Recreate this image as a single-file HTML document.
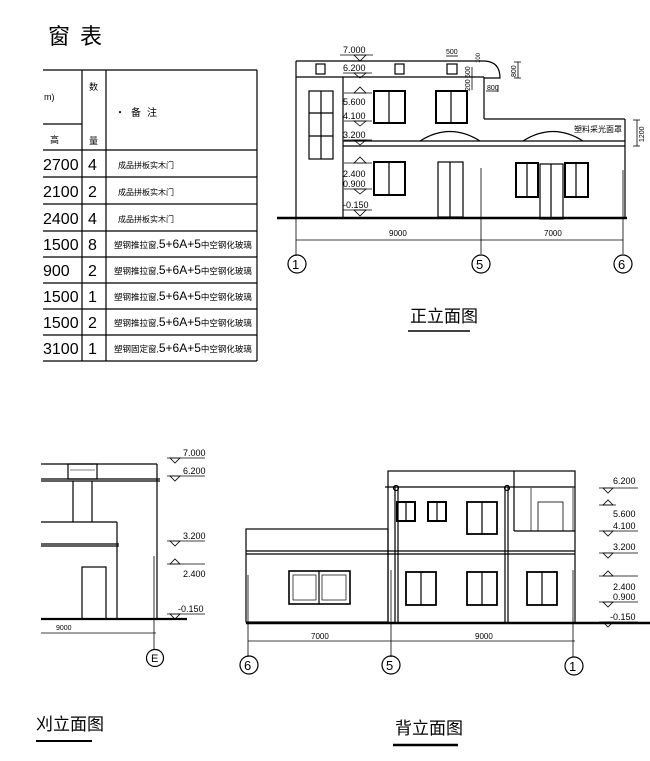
<!DOCTYPE html>
<html><head><meta charset="utf-8"><style>
body{margin:0;background:#fff}
svg{display:block}
text{font-family:"Liberation Sans","Noto Sans CJK SC",sans-serif;fill:#000}
.cj{font-family:"Noto Sans CJK SC","WenQuanYi Zen Hei",sans-serif}
</style></head><body>
<svg width="650" height="761" viewBox="0 0 650 761" xmlns="http://www.w3.org/2000/svg" stroke="#000" fill="none" stroke-width="1">
<!-- Window table -->
<text x="48" y="44" font-size="22" stroke="none" class="cj" letter-spacing="10">窗表</text>
<g stroke-width="1.2">
<line x1="43" y1="70" x2="257" y2="70"/>
<line x1="257" y1="70" x2="257" y2="361"/>
<line x1="82" y1="70" x2="82" y2="361"/>
<line x1="106" y1="70" x2="106" y2="361"/>
<line x1="43" y1="124" x2="82" y2="124"/>
<line x1="43" y1="150" x2="257" y2="150"/>
<line x1="43" y1="177" x2="257" y2="177"/>
<line x1="43" y1="204" x2="257" y2="204"/>
<line x1="43" y1="231" x2="257" y2="231"/>
<line x1="43" y1="257" x2="257" y2="257"/>
<line x1="43" y1="283" x2="257" y2="283"/>
<line x1="43" y1="309" x2="257" y2="309"/>
<line x1="43" y1="335" x2="257" y2="335"/>
<line x1="43" y1="361" x2="257" y2="361"/>
</g>
<g stroke="none">
<text x="44" y="100" font-size="9">m)</text>
<text x="89" y="90" font-size="9" class="cj">数</text>
<text x="89" y="144" font-size="9" class="cj">量</text>
<text x="50" y="143" font-size="9" class="cj">高</text>
<text x="115" y="116" font-size="10" class="cj" letter-spacing="6">·备注</text>
<g font-size="16">
<text x="43" y="170">2700</text><text x="88" y="170">4</text>
<text x="43" y="197">2100</text><text x="88" y="197">2</text>
<text x="43" y="224">2400</text><text x="88" y="224">4</text>
<text x="43" y="250">1500</text><text x="88" y="250">8</text>
<text x="43" y="276">900</text><text x="88" y="276">2</text>
<text x="43" y="302">1500</text><text x="88" y="302">1</text>
<text x="43" y="328">1500</text><text x="88" y="328">2</text>
<text x="43" y="354">3100</text><text x="88" y="354">1</text>
</g>
<g font-size="8" class="cj">
<text x="118" y="168">成品拼板实木门</text>
<text x="118" y="195">成品拼板实木门</text>
<text x="118" y="222">成品拼板实木门</text>
</g>
<g font-size="8.5" class="cj">
<text x="114" y="248">塑钢推拉窗,<tspan font-size="12">5+6A+5</tspan>中空钢化玻璃</text>
<text x="114" y="274">塑钢推拉窗,<tspan font-size="12">5+6A+5</tspan>中空钢化玻璃</text>
<text x="114" y="300">塑钢推拉窗,<tspan font-size="12">5+6A+5</tspan>中空钢化玻璃</text>
<text x="114" y="326">塑钢推拉窗,<tspan font-size="12">5+6A+5</tspan>中空钢化玻璃</text>
<text x="114" y="352">塑钢固定窗,<tspan font-size="12">5+6A+5</tspan>中空钢化玻璃</text>
</g>
</g>

<!-- Front elevation -->
<g stroke-width="1.2">
<line x1="296" y1="61" x2="485" y2="61"/>
<path d="M485 61 Q500 62 500 78 L484 78"/>
<line x1="296" y1="77" x2="484" y2="77"/>
<line x1="296" y1="61" x2="296" y2="217"/>
<line x1="343" y1="77" x2="343" y2="217"/>
<line x1="484" y1="77" x2="484" y2="119"/>
<line x1="484" y1="119" x2="625" y2="119"/>
<line x1="625" y1="119" x2="625" y2="219"/>
<line x1="343" y1="141" x2="625" y2="141"/>
<line x1="343" y1="146" x2="625" y2="146"/>
<path d="M420 141 Q450 122 480 141"/>
<path d="M523 141 Q553 122 583 141"/>
<rect x="309" y="91" width="24" height="68"/>
<line x1="321" y1="91" x2="321" y2="159"/>
<line x1="309" y1="113" x2="333" y2="113"/>
<line x1="309" y1="136" x2="333" y2="136"/>
<rect x="374" y="91" width="31" height="32" stroke-width="2"/><line x1="389" y1="91" x2="389" y2="123"/>
<rect x="436" y="91" width="31" height="32" stroke-width="2"/><line x1="451" y1="91" x2="451" y2="123"/>
<rect x="374" y="162" width="31" height="33" stroke-width="2"/><line x1="389" y1="162" x2="389" y2="195"/>
<rect x="438" y="162" width="25" height="55"/><line x1="450" y1="162" x2="450" y2="217"/>
<rect x="516" y="163" width="22" height="34" stroke-width="2"/><line x1="527" y1="163" x2="527" y2="197"/>
<rect x="565" y="163" width="23" height="34" stroke-width="2"/><line x1="576" y1="163" x2="576" y2="197"/>
<rect x="540" y="164" width="23" height="55"/><line x1="551" y1="164" x2="551" y2="219"/>
<rect x="316" y="64" width="9" height="10"/><rect x="395" y="64" width="9" height="10"/><rect x="447" y="64" width="10" height="10"/>
<line x1="277" y1="218" x2="627" y2="218" stroke-width="2.5"/>
<line x1="296" y1="240" x2="623" y2="240" stroke-width="0.8"/>
<line x1="296" y1="165" x2="296" y2="256" stroke-width="0.8"/>
<line x1="481" y1="168" x2="481" y2="254" stroke-width="0.8"/>
<line x1="623" y1="170" x2="623" y2="254" stroke-width="0.8"/>
<circle cx="297" cy="264" r="9"/><circle cx="481" cy="264" r="9"/><circle cx="623" cy="264" r="9"/>
<line x1="408" y1="331" x2="470" y2="331" stroke-width="1.5"/>
</g>
<g stroke-width="0.8">
<line x1="637" y1="120" x2="637" y2="146"/><line x1="633" y1="120" x2="640" y2="120"/><line x1="633" y1="146" x2="640" y2="146"/>
<line x1="518" y1="62" x2="518" y2="78"/><line x1="514" y1="62" x2="521" y2="62"/><line x1="514" y1="78" x2="521" y2="78"/>
<line x1="446" y1="56" x2="458" y2="56"/>
<line x1="472" y1="67" x2="472" y2="90"/>
<line x1="486" y1="91" x2="498" y2="91"/><line x1="498" y1="85" x2="498" y2="92"/>
</g>
<g stroke-width="0.8">
<line x1="340" y1="55" x2="373" y2="55"/><path d="M354 55 L366 55 L360 61Z"/>
<line x1="343" y1="73" x2="372" y2="73"/><path d="M354 73 L366 73 L360 78Z"/>
<line x1="344" y1="93" x2="372" y2="93"/><path d="M354 93 L366 93 L360 87Z"/>
<line x1="344" y1="121" x2="372" y2="121"/><path d="M354 121 L366 121 L360 126Z"/>
<line x1="344" y1="140" x2="372" y2="140"/><path d="M354 140 L366 140 L360 145Z"/>
<line x1="344" y1="163" x2="372" y2="163"/><path d="M354 163 L366 163 L360 157Z"/>
<line x1="344" y1="189" x2="372" y2="189"/><path d="M354 189 L366 189 L360 194Z"/>
<line x1="343" y1="210" x2="372" y2="210"/><path d="M354 210 L366 210 L360 216Z"/>
</g>
<g stroke="none" font-size="9">
<text x="343" y="53">7.000</text><text x="343" y="71">6.200</text>
<text x="343" y="105">5.600</text><text x="343" y="119">4.100</text><text x="343" y="138">3.200</text>
<text x="343" y="177">2.400</text><text x="343" y="187">0.900</text><text x="343" y="208">-0.150</text>
<text x="446" y="54" font-size="7">500</text>
<text x="487" y="90" font-size="7">800</text>
<text x="470" y="78" font-size="7" transform="rotate(-90 470 78)">500</text>
<text x="470" y="91" font-size="7" transform="rotate(-90 470 91)">200</text>
<text x="480" y="63" font-size="6" transform="rotate(-90 480 63)">100</text>
<text x="516" y="77" font-size="7" transform="rotate(-90 516 77)">800</text>
<text x="644" y="142" font-size="7" transform="rotate(-90 644 142)">1200</text>
<text x="389" y="236" font-size="8">9000</text><text x="544" y="236" font-size="8">7000</text>
<text x="292" y="269" font-size="13">1</text><text x="476" y="269" font-size="13">5</text><text x="618" y="269" font-size="13">6</text>
<text x="574" y="132" font-size="8" class="cj">塑料采光面罩</text>
<text x="410" y="322" font-size="17" class="cj">正立面图</text>
</g>

<!-- Side elevation -->
<g stroke-width="1.2">
<line x1="41" y1="464" x2="157" y2="464"/>
<line x1="41" y1="479" x2="160" y2="479"/>
<line x1="41" y1="481" x2="160" y2="481"/>
<rect x="68" y="464" width="29" height="15"/>
<line x1="70" y1="470" x2="95" y2="470" stroke-width="0.6"/>
<line x1="73" y1="481" x2="73" y2="522"/><line x1="92" y1="481" x2="92" y2="522"/>
<line x1="41" y1="522" x2="117" y2="522"/>
<line x1="117" y1="522" x2="117" y2="619"/>
<line x1="41" y1="544" x2="119" y2="544"/><line x1="41" y1="546" x2="119" y2="546"/>
<rect x="82" y="567" width="24" height="52"/>
<line x1="157" y1="464" x2="157" y2="619"/>
<line x1="41" y1="619" x2="187" y2="619" stroke-width="2.2"/>
<line x1="41" y1="633" x2="156" y2="633" stroke-width="0.8"/>
<line x1="154" y1="556" x2="154" y2="650" stroke-width="0.8"/>
<circle cx="155" cy="658" r="8.5"/>
<line x1="36" y1="741" x2="92" y2="741" stroke-width="2"/>
</g>
<g stroke-width="0.8">
<line x1="167" y1="458" x2="205" y2="458"/><path d="M170 458 L180 458 L175 463Z"/>
<line x1="167" y1="476" x2="205" y2="476"/><path d="M170 476 L180 476 L175 481Z"/>
<line x1="167" y1="541" x2="205" y2="541"/><path d="M170 541 L180 541 L175 546Z"/>
<line x1="167" y1="564" x2="205" y2="564"/><path d="M170 564 L180 564 L175 559Z"/>
<line x1="167" y1="614" x2="205" y2="614"/><path d="M170 614 L180 614 L175 619Z"/>
</g>
<g stroke="none" font-size="9">
<text x="183" y="456">7.000</text><text x="183" y="474">6.200</text><text x="183" y="539">3.200</text>
<text x="183" y="577">2.400</text><text x="178" y="612">-0.150</text>
<text x="56" y="630" font-size="7">9000</text>
<text x="151" y="662" font-size="11">E</text>
<text x="36" y="730" font-size="17" class="cj">刈立面图</text>
</g>

<!-- Back elevation -->
<g stroke-width="1.2">
<rect x="388" y="471" width="187" height="152"/>
<line x1="514" y1="471" x2="514" y2="531"/><line x1="514" y1="531" x2="575" y2="531"/>
<line x1="531" y1="488" x2="531" y2="531" stroke-width="0.7"/><line x1="573" y1="488" x2="573" y2="531" stroke-width="0.7"/>
<rect x="538" y="502" width="25" height="29" stroke-width="0.8"/>
<line x1="385" y1="487" x2="575" y2="487"/>
<line x1="395" y1="487" x2="395" y2="623"/><line x1="398" y1="487" x2="398" y2="623"/>
<line x1="505" y1="487" x2="505" y2="623"/><line x1="508" y1="487" x2="508" y2="623"/>
<circle cx="396" cy="488" r="2.5"/><circle cx="507" cy="488" r="2.5"/>
<rect x="246" y="529" width="142" height="93"/>
<line x1="246" y1="551" x2="575" y2="551"/><line x1="246" y1="554" x2="575" y2="554"/>
<rect x="397" y="502" width="18" height="19" stroke-width="2"/><line x1="406" y1="502" x2="406" y2="521"/>
<rect x="428" y="502" width="18" height="19" stroke-width="2"/><line x1="437" y1="502" x2="437" y2="521"/>
<rect x="467" y="502" width="30" height="32" stroke-width="1.8"/><line x1="482" y1="502" x2="482" y2="534"/>
<rect x="289" y="571" width="61" height="33" stroke-width="1.6"/><line x1="319" y1="571" x2="319" y2="604"/>
<rect x="293" y="575" width="23" height="25" stroke-width="0.7"/><rect x="322" y="575" width="24" height="25" stroke-width="0.7"/>
<rect x="406" y="572" width="30" height="33" stroke-width="1.8"/><line x1="421" y1="572" x2="421" y2="605"/>
<rect x="467" y="572" width="30" height="33" stroke-width="1.8"/><line x1="482" y1="572" x2="482" y2="605"/>
<rect x="527" y="572" width="30" height="33" stroke-width="1.8"/><line x1="542" y1="572" x2="542" y2="605"/>
<line x1="246" y1="623" x2="650" y2="623" stroke-width="2.4"/>
<line x1="248" y1="641" x2="575" y2="641" stroke-width="0.8"/>
<line x1="248" y1="575" x2="248" y2="657" stroke-width="0.8"/>
<line x1="391" y1="570" x2="391" y2="657" stroke-width="0.8"/>
<line x1="573" y1="570" x2="573" y2="657" stroke-width="0.8"/>
<circle cx="249" cy="665" r="9"/><circle cx="391" cy="665" r="9"/><circle cx="574" cy="666" r="9"/>
<line x1="393" y1="745" x2="458" y2="745" stroke-width="2.5"/>
</g>
<g stroke-width="0.8">
<line x1="599" y1="488" x2="638" y2="488"/><path d="M603 488 L613 488 L608 493Z"/>
<line x1="599" y1="505" x2="616" y2="505"/><path d="M603 505 L613 505 L608 500Z"/>
<line x1="599" y1="531" x2="638" y2="531"/><path d="M603 531 L613 531 L608 536Z"/>
<line x1="599" y1="553" x2="638" y2="553"/><path d="M603 553 L613 553 L608 558Z"/>
<line x1="599" y1="576" x2="638" y2="576"/><path d="M603 576 L613 576 L608 571Z"/>
<line x1="599" y1="602" x2="638" y2="602"/><path d="M603 602 L613 602 L608 607Z"/>
<line x1="599" y1="622" x2="638" y2="622"/><path d="M603 622 L613 622 L608 627Z"/>
</g>
<g stroke="none" font-size="9">
<text x="613" y="484">6.200</text><text x="613" y="517">5.600</text><text x="613" y="529">4.100</text>
<text x="613" y="550">3.200</text><text x="613" y="590">2.400</text><text x="613" y="600">0.900</text>
<text x="610" y="620">-0.150</text>
<text x="311" y="639" font-size="8">7000</text><text x="475" y="639" font-size="8">9000</text>
<text x="244" y="670" font-size="13">6</text><text x="386" y="670" font-size="13">5</text><text x="569" y="671" font-size="13">1</text>
<text x="395" y="734" font-size="17" class="cj">背立面图</text>
</g>
</svg>
</body></html>
